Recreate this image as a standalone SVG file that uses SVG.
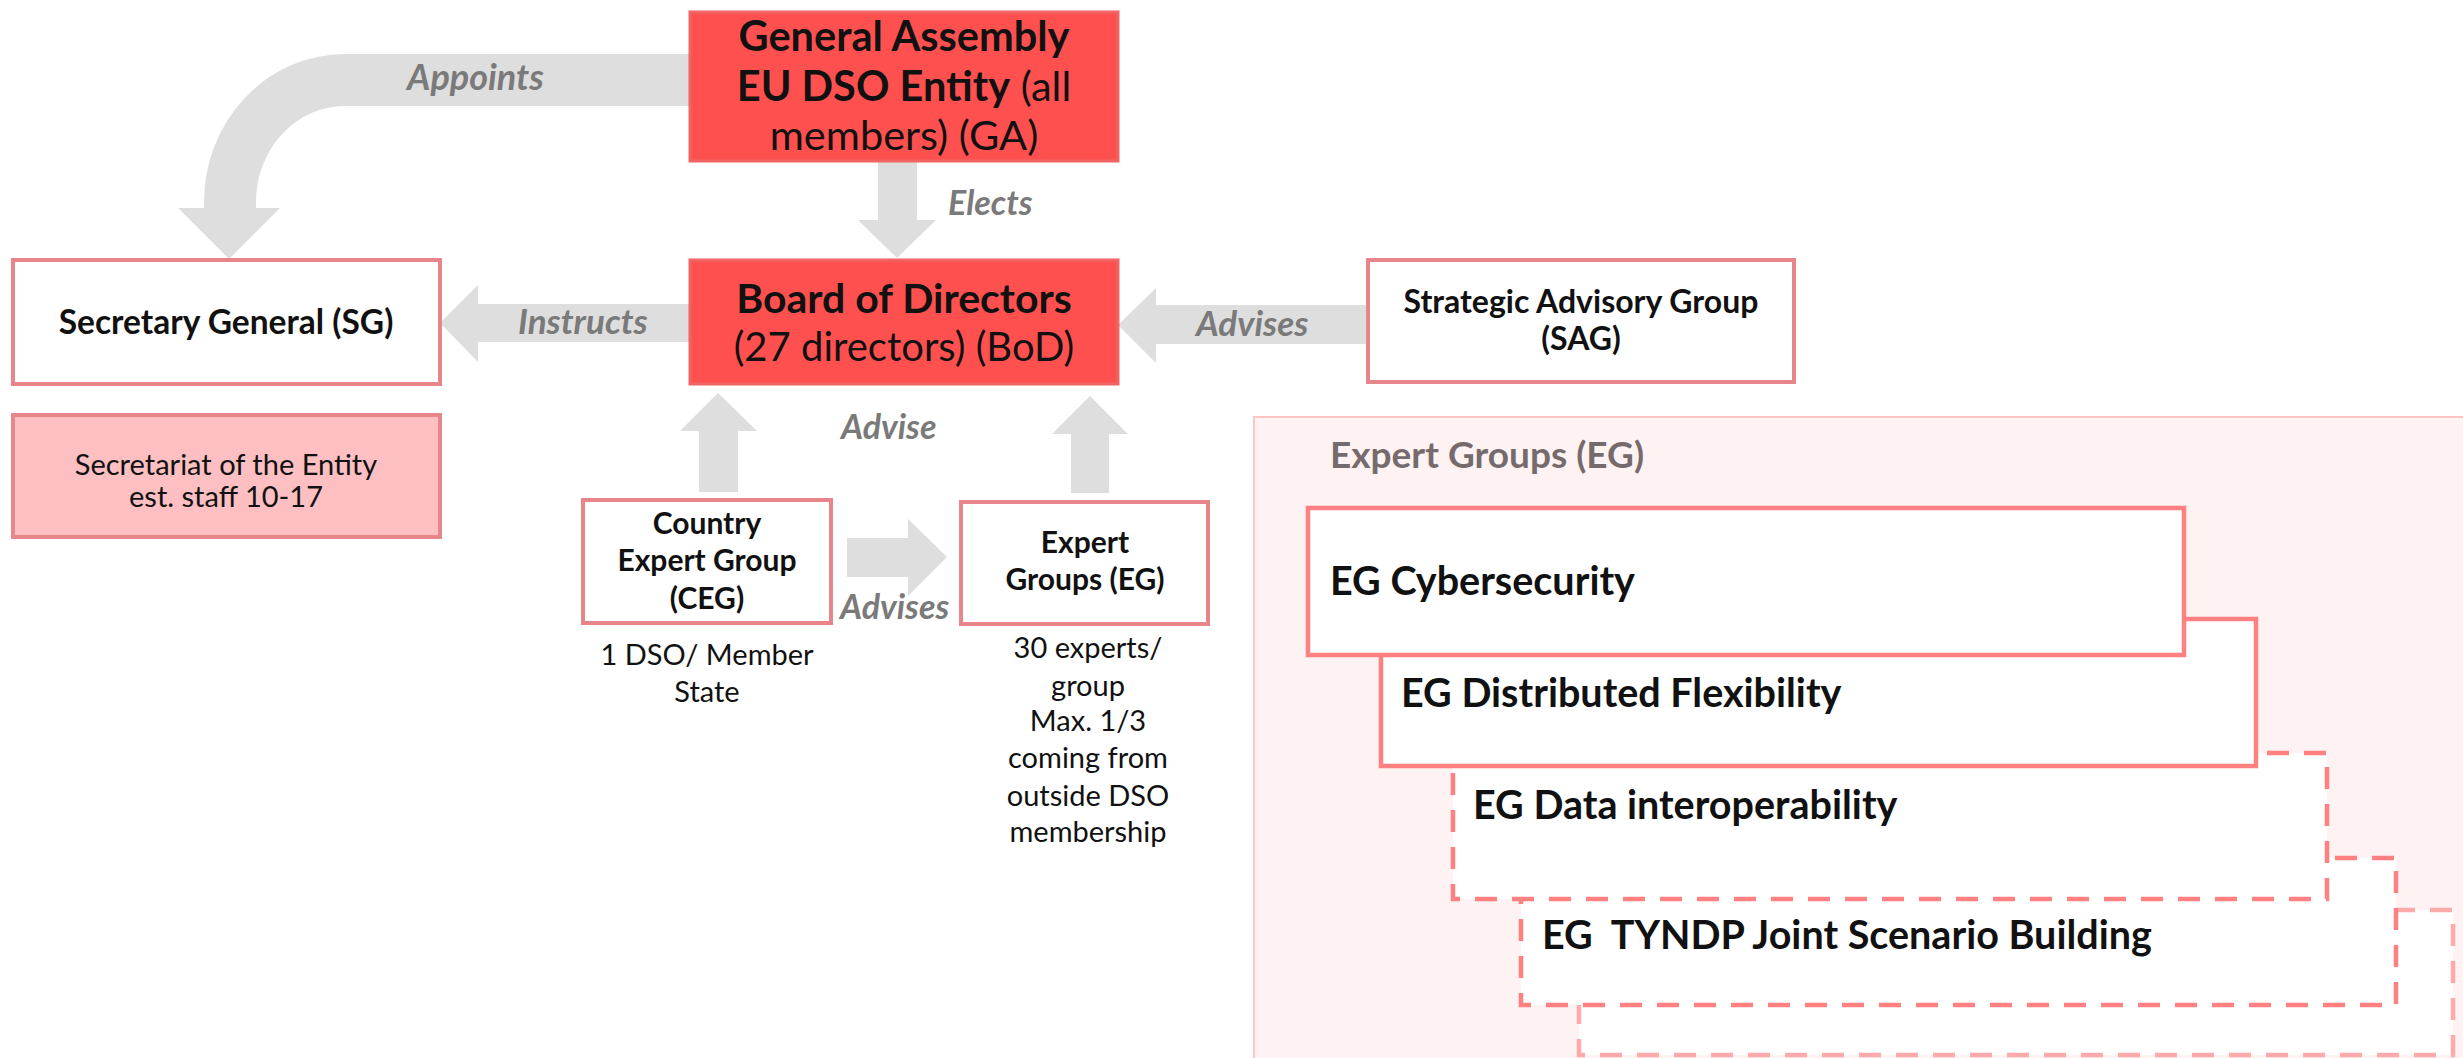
<svg xmlns="http://www.w3.org/2000/svg" width="2463" height="1058" viewBox="0 0 2463 1058">
<style>
text{font-family:"Lato","Liberation Sans",sans-serif;fill:#111}
.b{font-weight:bold}
.r{font-weight:normal}
.lbl{font-weight:bold;font-style:italic;fill:#7a7a7a}
.arrow{fill:#dedede}
.red{fill:#ff5050;stroke:#f26464;stroke-width:3}
.wbox{fill:#fff;stroke:#e8858b;stroke-width:4}
.eg{fill:#fff;stroke:#ff8080;stroke-width:4.5}
.egd{fill:#fff;stroke:#ff8080;stroke-width:4.5;stroke-dasharray:22 15}
.egl{fill:#fff;stroke:#ffaaaa;stroke-width:4.5;stroke-dasharray:22 15}
.c{text-anchor:middle}
</style>
<rect width="2463" height="1058" fill="#fff"/>

<g id="eg-container">
<rect x="1254" y="417" width="1230" height="660" fill="#fef2f2" stroke="#ffc4c4" stroke-width="2"/>
<text x="1330" y="468" class="b" font-size="37" style="fill:#766b6c">Expert Groups (EG)</text>
</g>

<g id="eg5"><rect class="egl" x="1579" y="910" width="874" height="145"/></g>
<g id="eg4"><rect class="egd" x="1521" y="858" width="875" height="147"/>
<text x="1542" y="949" class="b" font-size="39.5" xml:space="preserve">EG  TYNDP Joint Scenario Building</text></g>
<g id="eg3"><rect class="egd" x="1453" y="753" width="874" height="146"/>
<text x="1473" y="819" class="b" font-size="39.5">EG Data interoperability</text></g>
<g id="eg2"><rect class="eg" x="1381" y="619" width="875" height="147"/>
<text x="1401" y="707" class="b" font-size="39.5">EG Distributed Flexibility</text></g>
<g id="eg1"><rect class="eg" x="1308" y="508" width="876" height="147"/>
<text x="1330" y="595" class="b" font-size="39.5">EG Cybersecurity</text></g>

<g id="connectors">
<path d="M690,80 H345 A115,122 0 0 0 230,202 V212" fill="none" stroke="#dedede" stroke-width="52"/>
<polygon class="arrow" points="178,208 280,208 229,259"/>
<polygon class="arrow" points="878,161 917,161 917,220 936,220 897,258 858,220 878,220"/>
<polygon class="arrow" points="690,304 478,304 478,285 440,323 478,362 478,342 690,342"/>
<polygon class="arrow" points="1368,305 1156,305 1156,288 1118,325 1156,363 1156,344 1368,344"/>
<polygon class="arrow" points="699,492 699,431 680,431 718,393 757,431 738,431 738,492"/>
<polygon class="arrow" points="1071,493 1071,434 1052,434 1090,396 1128,434 1109,434 1109,493"/>
<polygon class="arrow" points="847,538 908,538 908,519 947,557 908,596 908,577 847,577"/>
<text x="407" y="90" class="lbl" font-size="36">Appoints</text>
<text x="948" y="215" class="lbl" font-size="34">Elects</text>
<text x="518" y="334" class="lbl" font-size="35">Instructs</text>
<text x="1196" y="336" class="lbl" font-size="35">Advises</text>
<text x="841" y="439" class="lbl" font-size="34">Advise</text>
<text x="840" y="619" class="lbl" font-size="34">Advises</text>
</g>

<g id="ga">
<rect class="red" x="690" y="12" width="428" height="149"/>
<text x="904" y="51" class="b c" font-size="41.5">General Assembly</text>
<text x="904" y="101" class="c" font-size="41.5"><tspan class="b">EU DSO Entity</tspan><tspan class="r"> (all</tspan></text>
<text x="904" y="150" class="r c" font-size="41.5">members) (GA)</text>
</g>

<g id="bod">
<rect class="red" x="690" y="260" width="428" height="124"/>
<text x="904" y="313" class="b c" font-size="41">Board of Directors</text>
<text x="904" y="361" class="r c" font-size="40">(27 directors) (BoD)</text>
</g>

<g id="sg">
<rect class="wbox" x="13" y="260" width="427" height="124"/>
<text x="226" y="334" class="b c" font-size="33.5">Secretary General (SG)</text>
</g>

<g id="secretariat">
<rect x="13" y="415" width="427" height="122" fill="#fdbfc2" stroke="#e8868b" stroke-width="4"/>
<text x="226" y="475" class="r c" font-size="29">Secretariat of the Entity</text>
<text x="226" y="507" class="r c" font-size="29">est. staff 10-17</text>
</g>

<g id="sag">
<rect class="wbox" x="1368" y="260" width="426" height="122"/>
<text x="1581" y="313" class="b c" font-size="32">Strategic Advisory Group</text>
<text x="1581" y="350" class="b c" font-size="32">(SAG)</text>
</g>

<g id="ceg">
<rect class="wbox" x="583" y="500" width="248" height="123"/>
<text x="707" y="534" class="b c" font-size="30">Country</text>
<text x="707" y="571" class="b c" font-size="30">Expert Group</text>
<text x="707" y="609" class="b c" font-size="30">(CEG)</text>
<text x="707" y="665" class="r c" font-size="29">1 DSO/ Member</text>
<text x="707" y="702" class="r c" font-size="29">State</text>
</g>

<g id="eg">
<rect class="wbox" x="961" y="502" width="247" height="122"/>
<text x="1085" y="553" class="b c" font-size="30">Expert</text>
<text x="1085" y="590" class="b c" font-size="30">Groups (EG)</text>
<text x="1088" y="658" class="r c" font-size="29">30 experts/</text>
<text x="1088" y="696" class="r c" font-size="29">group</text>
<text x="1088" y="731" class="r c" font-size="29">Max. 1/3</text>
<text x="1088" y="768" class="r c" font-size="29">coming from</text>
<text x="1088" y="806" class="r c" font-size="29">outside DSO</text>
<text x="1088" y="842" class="r c" font-size="29">membership</text>
</g>
</svg>
